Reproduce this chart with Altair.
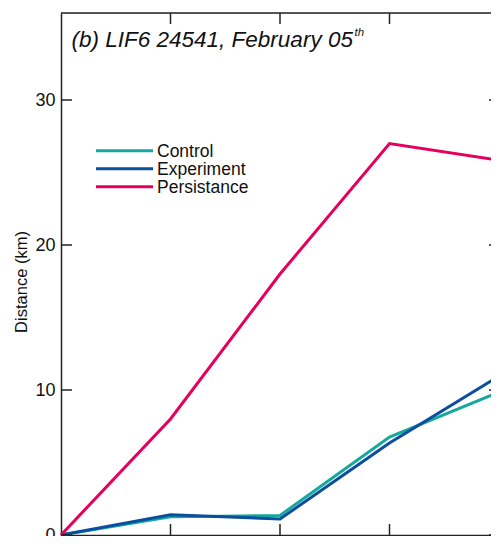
import altair as alt
import pandas as pd

# ---- data ----
steps = [0, 1, 2, 3, 4]
control = [0.0, 1.25, 1.35, 6.75, 9.85]
experiment = [0.0, 1.4, 1.1, 6.35, 10.95]
persistance = [0.0, 8.0, 18.0, 27.0, 25.85]
series_names = ["Control", "Experiment", "Persistance"]
series_colors = ["#15a89c", "#0b4e9e", "#e6005c"]
y_ticks = [0, 10, 20, 30]
x_ticks = [1, 2, 3]

# the reference is a crop of a wider figure: the visible plot area ends just
# before step 4, so the x domain stops a little short of it
W, H = 430, 522
X_MAX = 4 * W / 438
FONT = "Liberation Sans"
FRAME = "#222"

rows = []
for name, vals in zip(series_names, [control, experiment, persistance]):
    for s, v in zip(steps, vals):
        rows.append({"step": s, "dist": v, "series": name})
df = pd.DataFrame(rows)

xs = alt.Scale(domain=[0, X_MAX], nice=False, zero=False)
ys = alt.Scale(domain=[0, 36], nice=False)

lines = alt.Chart(df).mark_line(strokeWidth=3).encode(
    x=alt.X("step:Q", scale=xs, axis=alt.Axis(labels=False, ticks=False, domain=True, domainColor=FRAME,
                                              domainWidth=1.5, grid=False, title=None)),
    y=alt.Y("dist:Q", scale=ys, axis=alt.Axis(values=y_ticks, ticks=False, domain=True, domainColor=FRAME,
                                              domainWidth=1.5, grid=False,
                                              title=None, labelFont=FONT, labelFontSize=18,
                                              labelColor="#111", labelPadding=6)),
    color=alt.Color("series:N", scale=alt.Scale(domain=series_names, range=series_colors), legend=None),
    order="step:Q",
)

ydf = pd.DataFrame({"v": y_ticks})
xdf = pd.DataFrame({"v": x_ticks})
tick_style = dict(color=FRAME, strokeWidth=1.5)
yl = alt.Chart(ydf).mark_rule(**tick_style).encode(y=alt.Y("v:Q", scale=ys), x=alt.value(0), x2=alt.value(11))
yr = alt.Chart(ydf).mark_rule(**tick_style).encode(y=alt.Y("v:Q", scale=ys), x=alt.value(428), x2=alt.value(438))
xt = alt.Chart(xdf).mark_rule(**tick_style).encode(x=alt.X("v:Q", scale=xs), y=alt.value(0), y2=alt.value(11))
xb = alt.Chart(xdf).mark_rule(**tick_style).encode(x=alt.X("v:Q", scale=xs), y=alt.value(H - 11), y2=alt.value(H))
top = alt.Chart(pd.DataFrame({"v": [0]})).mark_rule(**tick_style).encode(
    x=alt.value(0), x2=alt.value(W + 10), y=alt.value(0))

layers = [lines, yl, yr, xt, xb, top]

# legend (manual)
for i, (name, col) in enumerate(zip(series_names, series_colors)):
    ly = 137.7 + 18 * i
    layers.append(alt.Chart(pd.DataFrame({"n": [name]})).mark_rule(color=col, strokeWidth=3).encode(
        x=alt.value(35), x2=alt.value(92), y=alt.value(ly)))
    layers.append(alt.Chart(pd.DataFrame({"n": [name]})).mark_text(
        align="left", baseline="alphabetic", font=FONT, fontSize=17.5, color="#111").encode(
        text="n:N", x=alt.value(96), y=alt.value(ly + 6.5)))

# title
layers.append(alt.Chart(pd.DataFrame({"t": ["(b) LIF6 24541, February 05"]})).mark_text(
    align="left", baseline="alphabetic", font=FONT, fontSize=22.5, fontStyle="italic", color="#111").encode(
    text="t:N", x=alt.value(10.5), y=alt.value(33.7)))
layers.append(alt.Chart(pd.DataFrame({"t": ["th"]})).mark_text(
    align="left", baseline="alphabetic", font=FONT, fontSize=11.5, fontStyle="italic", color="#111").encode(
    text="t:N", x=alt.value(293.5), y=alt.value(23)))
# y axis title
layers.append(alt.Chart(pd.DataFrame({"t": ["Distance (km)"]})).mark_text(
    align="center", baseline="middle", angle=270, font=FONT, fontSize=16.5, color="#111").encode(
    text="t:N", x=alt.value(-39), y=alt.value(269)))

chart = alt.layer(*layers).properties(
    width=W, height=H,
    autosize=alt.AutoSizeParams(type="none"),
    padding={"left": 53, "top": 5, "right": 0, "bottom": 1},
).configure_view(stroke=None).configure(background="white")

chart.save("out.html", embed_options={"renderer": "svg", "actions": False})
